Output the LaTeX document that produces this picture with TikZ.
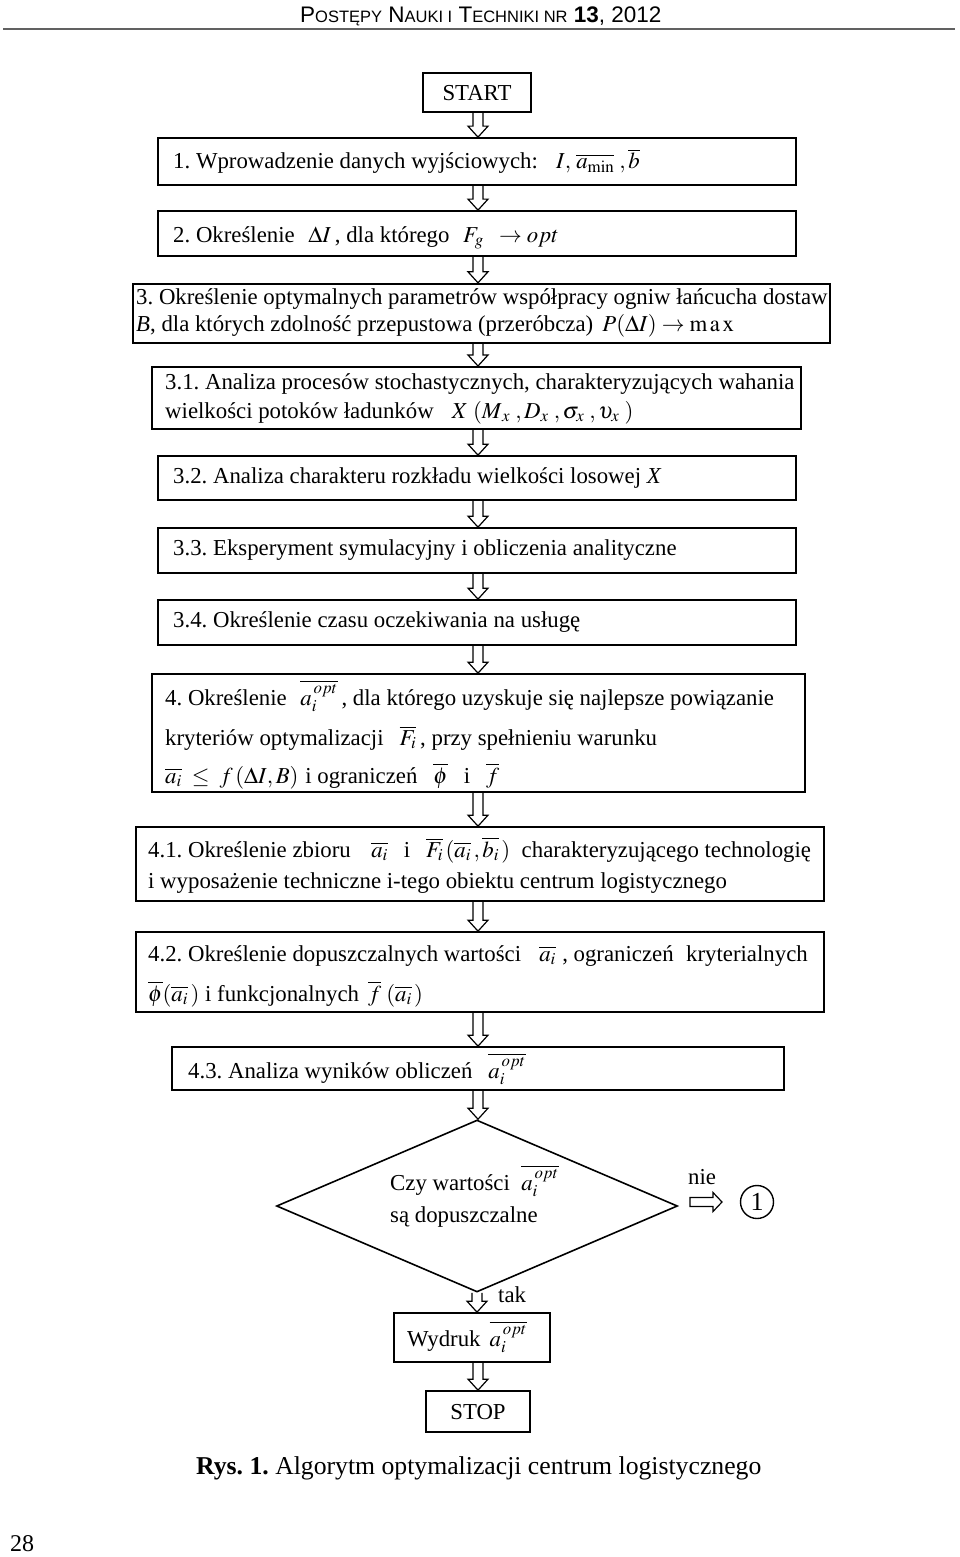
\documentclass[tikz,border=0pt]{standalone}
\usepackage{mathptmx}
\usepackage[no-math]{fontspec}
\setmainfont{Liberation Serif}
\newfontfamily\hdrfont{Liberation Sans}
\usetikzlibrary{calc,shapes.geometric}
\newcommand\scc[1]{{\fontsize{16.5}{17}\selectfont #1}}
\newcommand\aopt{\overline{a_i^{\,opt}}}
\frenchspacing
\begin{document}
\begin{tikzpicture}[x=1pt,y=-1pt,
  box/.style={draw, line width=1.7pt, inner sep=0pt, rectangle},
  thickbox/.style={box, line width=2.4pt},
  txt/.style={anchor=base west, inner sep=0pt, font=\fontsize{22.8}{26}\selectfont},
  ctxt/.style={anchor=base, inner sep=0pt, font=\fontsize{22.8}{26}\selectfont},
  harrow/.style={draw, line width=1.2pt, line join=miter},
  hv/.style={to path={let \p1=(\tikztostart),\p2=(\tikztotarget) in
     (\x1-5pt,\y1) -- (\x1-5pt,\y2+11pt) -- (\x1-10pt,\y2+11pt) -- (\x1,\y2)
     -- (\x1+10pt,\y2+11pt) -- (\x1+5pt,\y2+11pt) -- (\x1+5pt,\y1)}},
  hh/.style={to path={let \p1=(\tikztostart),\p2=(\tikztotarget) in
     (\x1,\y1+4.5pt) -- (\x2-9pt,\y1+4.5pt) -- (\x2-9pt,\y1+9.5pt) -- (\x2,\y1)
     -- (\x2-9pt,\y1-9.5pt) -- (\x2-9pt,\y1-4.5pt) -- (\x1,\y1-4.5pt) -- cycle}}
]
\useasboundingbox (0,0) rectangle (960,1557);

% header
\draw[line width=2.5pt, draw=black!62] (3,29) -- (955,29);
\node[anchor=base west, inner sep=0pt, font=\hdrfont\fontsize{22.5}{23}\selectfont] (hdr) at (300,23)
  {P\scc{OSTĘPY} N\scc{AUKI I} T\scc{ECHNIKI NR} \textbf{13}, 2012};

\coordinate (ax) at (478,0);

% boxes
\node[box, minimum width=108pt, minimum height=39pt] (start) at (477,92.5) {};
\node[ctxt] (tstart) at (477,101) {START};

\node[box, minimum width=638pt, minimum height=47pt] (b1) at (477,161.5) {};
\node[txt] (t1) at (173,169) {1. Wprowadzenie danych wyjściowych:\hspace{0.8em}$I,\,\overline{a_{\min}}\;,\overline{b}$};

\node[box, minimum width=638pt, minimum height=45pt] (b2) at (477,233.5) {};
\node[txt] (t2) at (173,242) {2. Określenie\hspace{0.6em}$\Delta I$\,, dla którego\hspace{0.6em}$F_g \;\;\to opt$};

\node[thickbox, minimum width=697pt, minimum height=59pt] (b3) at (481.5,313.5) {};
\node[txt] (t3a) at (136,304) {3. Określenie optymalnych parametrów współpracy ogniw łańcucha dostaw};
\node[txt] (t3b) at (136,331) {\textit{B}, dla których zdolność przepustowa (przeróbcza)\hspace{0.4em}$P(\Delta I)\to \mathrm{m\,a\,x}$};

\node[thickbox, line width=2pt, minimum width=649pt, minimum height=62pt] (b31) at (476.5,398) {};
\node[txt] (t31a) at (165,389) {3.1. Analiza procesów stochastycznych, charakteryzujących wahania};
\node[txt] (t31b) at (165,418) {wielkości potoków ładunków\hspace{0.8em}$X\;(M_{\,x}\;, D_x\;, \sigma_x\;, \upsilon_x\;)$};

\node[box, minimum width=638pt, minimum height=44pt] (b32) at (477,478) {};
\node[txt] (t32) at (173,483) {3.2. Analiza charakteru rozkładu wielkości losowej \textit{X}};

\node[box, minimum width=638pt, minimum height=45pt] (b33) at (477,550.5) {};
\node[txt] (t33) at (173,555) {3.3. Eksperyment symulacyjny i obliczenia analityczne};

\node[box, minimum width=638pt, minimum height=45pt] (b34) at (477,622.5) {};
\node[txt] (t34) at (173,627) {3.4. Określenie czasu oczekiwania na usługę};

\node[box, minimum width=653pt, minimum height=118pt] (b4) at (478.5,733) {};
\node[txt] (t4a) at (165,705) {4. Określenie\hspace{0.6em}$\aopt$\,, dla którego uzyskuje się najlepsze powiązanie};
\node[txt] (t4b) at (165,745) {kryteriów optymalizacji\hspace{0.7em}$\overline{F_i}$\,, przy spełnieniu warunku};
\node[txt] (t4c) at (165,783) {$\overline{a_i}\;\le\; f\,(\Delta I, B)$\hspace{0.3em}i ograniczeń\hspace{0.7em}$\overline{\phi}$\hspace{0.7em}i\hspace{0.7em}$\overline{f}$};

\node[box, minimum width=688pt, minimum height=74pt] (b41) at (480,864) {};
\node[txt] (t41a) at (148,857) {4.1. Określenie zbioru\hspace{0.9em}$\overline{a_i}$\hspace{0.7em}i\hspace{0.7em}$\overline{F_i}\,(\overline{a_i}\,,\overline{b_i}\,)$\hspace{0.5em}charakteryzującego technologię};
\node[txt] (t41b) at (148,888) {i wyposażenie techniczne i-tego obiektu centrum logistycznego};

\node[box, minimum width=688pt, minimum height=80pt] (b42) at (480,972) {};
\node[txt] (t42a) at (148,961) {4.2. Określenie dopuszczalnych wartości\hspace{0.8em}$\overline{a_i}$\;, ograniczeń\hspace{0.3em} kryterialnych};
\node[txt] (t42b) at (148,1001) {$\overline{\phi}(\overline{a_i}\,)$ i funkcjonalnych\hspace{0.4em}$\overline{f}\;(\overline{a_i}\,)$};

\node[box, minimum width=612pt, minimum height=43pt] (b43) at (478,1068.5) {};
\node[txt] (t43) at (188,1078) {4.3. Analiza wyników obliczeń\hspace{0.7em}$\aopt$};

\node[diamond, draw, line width=1.6pt, inner sep=0pt, minimum width=401pt, minimum height=172pt] (dm) at (477,1206) {};
\node[txt] (td1) at (390,1190) {Czy wartości\hspace{0.5em}$\aopt$};
\node[txt] (td2) at (390,1222) {są dopuszczalne};

\node[txt] (nie) at (688,1184) {nie};
\coordinate (na1) at (690,1202);
\node[circle, draw, line width=1.4pt, minimum size=33pt, inner sep=0pt,
  font=\fontsize{26}{26}\selectfont] (c1) at (757,1202) {1};
\coordinate (na2) at (722,1202);
\node[txt] (tak) at (498,1302) {tak};

\node[box, minimum width=156pt, minimum height=49pt] (wyd) at (472,1337.5) {};
\node[txt] (twyd) at (407,1346) {Wydruk\hspace{0.4em}$\aopt$};

\node[box, minimum width=104pt, minimum height=41pt] (stop) at (478,1411.5) {};
\node[ctxt] (tstop) at (478,1419) {STOP};

% caption and page number
\node[txt, font=\fontsize{25.7}{28}\selectfont] (cap) at (196,1474) {\textbf{Rys. 1.} Algorytm optymalizacji centrum logistycznego};
\node[txt, font=\fontsize{24}{28}\selectfont] (pg) at (10,1551) {28};

% hollow arrows
\draw[harrow] (start.south -| ax) to[hv] (b1.north -| ax);
\draw[harrow] (b1.south -| ax) to[hv] (b2.north -| ax);
\draw[harrow] (b2.south -| ax) to[hv] (b3.north -| ax);
\draw[harrow] (b3.south -| ax) to[hv] (b31.north -| ax);
\draw[harrow] (b31.south -| ax) to[hv] (b32.north -| ax);
\draw[harrow] (b32.south -| ax) to[hv] (b33.north -| ax);
\draw[harrow] (b33.south -| ax) to[hv] (b34.north -| ax);
\draw[harrow] (b34.south -| ax) to[hv] (b4.north -| ax);
\draw[harrow] (b4.south -| ax) to[hv] (b41.north -| ax);
\draw[harrow] (b41.south -| ax) to[hv] (b42.north -| ax);
\draw[harrow] (b42.south -| ax) to[hv] (b43.north -| ax);
\draw[harrow] (b43.south -| ax) to[hv] (dm.north);
\draw[harrow] (dm.south) to[hv] (wyd.north -| dm.south);
\draw[harrow] (wyd.south -| ax) to[hv] (stop.north -| ax);
\draw[harrow] (na1) to[hh] (na2);
\end{tikzpicture}
\end{document}
